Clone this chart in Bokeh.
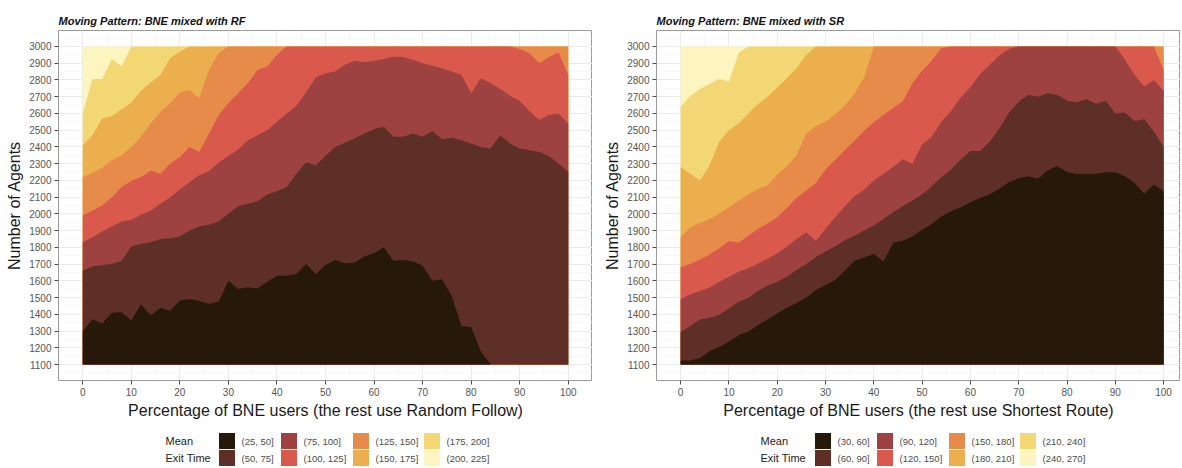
import numpy as np
from bokeh.plotting import figure
from bokeh.layouts import row, column
from bokeh.models import Range1d, FixedTicker
from bokeh.core.properties import value
from bokeh.embed import file_html
from bokeh.resources import INLINE

FONT = "Liberation Sans"

# ---------------- data ----------------
X_PCT = list(range(0, 101, 2))          # percentage of BNE users (grid columns)
AGENTS_MIN = 1100
AGENTS_MAX = 3000
X_TICKS = [0, 10, 20, 30, 40, 50, 60, 70, 80, 90, 100]
Y_TICKS = [1100, 1200, 1300, 1400, 1500, 1600, 1700, 1800, 1900, 2000,
           2100, 2200, 2300, 2400, 2500, 2600, 2700, 2800, 2900, 3000]

RF_LABELS = ["(25, 50]", "(50, 75]", "(75, 100]", "(100, 125]",
             "(125, 150]", "(150, 175]", "(175, 200]", "(200, 225]"]
SR_LABELS = ["(30, 60]", "(60, 90]", "(90, 120]", "(120, 150]",
             "(150, 180]", "(180, 210]", "(210, 240]", "(240, 270]"]
COLORS = ["#27190a", "#5d2f26", "#9d4141", "#d95a4c",
          "#e78b4b", "#ebb04d", "#f3d774", "#fcf5bf"]

# Left panel (BNE mixed with RF): upper boundary (number of agents) of each band
RF_B50 = [1300, 1370, 1345, 1410, 1412, 1365, 1460, 1393, 1440, 1422,
          1482, 1492, 1480, 1462, 1475, 1600, 1552, 1562, 1555, 1595,
          1631, 1630, 1641, 1700, 1641, 1695, 1725, 1705, 1710, 1745,
          1765, 1800, 1720, 1725, 1715, 1690, 1600, 1610, 1510, 1330,
          1325, 1180, 1100, 1100, 1100, 1100, 1100, 1100, 1100, 1100, 1100]
RF_B75 = [1660, 1685, 1695, 1700, 1720, 1805, 1820, 1830, 1850, 1855,
          1865, 1900, 1925, 1935, 1955, 2000, 2045, 2060, 2075, 2115,
          2135, 2160, 2240, 2308, 2290, 2345, 2400, 2425, 2450, 2480,
          2505, 2520, 2460, 2460, 2480, 2460, 2495, 2445, 2455, 2440,
          2420, 2400, 2390, 2470, 2420, 2390, 2380, 2370, 2345, 2300, 2250]
RF_B100 = [1830, 1860, 1895, 1925, 1955, 1965, 1995, 2020, 2060, 2100,
           2145, 2190, 2230, 2255, 2305, 2345, 2385, 2440, 2470, 2500,
           2550, 2600, 2645, 2725, 2815, 2840, 2850, 2890, 2915, 2905,
           2915, 2925, 2940, 2935, 2920, 2900, 2885, 2870, 2850, 2830,
           2720, 2810, 2780, 2745, 2705, 2675, 2615, 2560, 2590, 2600, 2540]
RF_B125 = [1990, 2020, 2050, 2100, 2160, 2198, 2220, 2258, 2240, 2300,
           2340, 2400, 2370, 2480, 2590, 2660, 2720, 2780, 2860, 2880,
           2950, 3000, 3000, 3000, 3000, 3000, 3000, 3000, 3000, 3000,
           3000, 3000, 3000, 3000, 3000, 3000, 3000, 3000, 3000, 3000,
           3000, 3000, 3000, 3000, 3000, 2985, 2960, 2900, 2935, 2965, 2830]
RF_B150 = [2218, 2245, 2275, 2320, 2350, 2400, 2460, 2540, 2610, 2660,
           2725, 2740, 2690, 2860, 2960, 3000, 3000, 3000, 3000, 3000,
           3000, 3000, 3000, 3000, 3000, 3000, 3000, 3000, 3000, 3000,
           3000, 3000, 3000, 3000, 3000, 3000, 3000, 3000, 3000, 3000,
           3000, 3000, 3000, 3000, 3000, 3000, 3000, 3000, 3000, 3000, 3000]
RF_B175 = [2410, 2470, 2570, 2585, 2625, 2665, 2735, 2785, 2830, 2930,
           2970, 3000, 3000, 3000, 3000, 3000, 3000, 3000, 3000, 3000,
           3000, 3000, 3000, 3000, 3000, 3000, 3000, 3000, 3000, 3000,
           3000, 3000, 3000, 3000, 3000, 3000, 3000, 3000, 3000, 3000,
           3000, 3000, 3000, 3000, 3000, 3000, 3000, 3000, 3000, 3000, 3000]
RF_B200 = [2600, 2805, 2805, 2925, 2880, 3000, 3000, 3000, 3000, 3000,
           3000, 3000, 3000, 3000, 3000, 3000, 3000, 3000, 3000, 3000,
           3000, 3000, 3000, 3000, 3000, 3000, 3000, 3000, 3000, 3000,
           3000, 3000, 3000, 3000, 3000, 3000, 3000, 3000, 3000, 3000,
           3000, 3000, 3000, 3000, 3000, 3000, 3000, 3000, 3000, 3000, 3000]

# Right panel (BNE mixed with SR)
SR_B60 = [1124, 1125, 1140, 1180, 1205, 1238, 1275, 1298, 1335, 1370,
          1405, 1440, 1468, 1500, 1545, 1575, 1605, 1662, 1720, 1740,
          1760, 1715, 1828, 1840, 1865, 1905, 1940, 1985, 2015, 2040,
          2070, 2095, 2115, 2150, 2190, 2212, 2225, 2210, 2260, 2285,
          2250, 2238, 2238, 2238, 2248, 2248, 2225, 2185, 2120, 2175, 2135]
SR_B90 = [1293, 1330, 1370, 1380, 1398, 1435, 1475, 1498, 1540, 1572,
          1595, 1625, 1665, 1700, 1742, 1775, 1805, 1842, 1870, 1900,
          1930, 1970, 2010, 2045, 2080, 2115, 2165, 2220, 2265, 2325,
          2375, 2375, 2430, 2510, 2605, 2670, 2712, 2700, 2720, 2710,
          2675, 2665, 2685, 2658, 2675, 2600, 2605, 2555, 2565, 2490, 2400]
SR_B120 = [1492, 1520, 1540, 1560, 1595, 1625, 1655, 1675, 1702, 1732,
           1765, 1805, 1850, 1890, 1840, 1910, 1980, 2045, 2105, 2145,
           2200, 2240, 2280, 2325, 2300, 2415, 2460, 2550, 2615, 2695,
           2756, 2835, 2890, 2945, 2985, 3000, 3000, 3000, 3000, 3000,
           3000, 3000, 3000, 3000, 3000, 3000, 2920, 2830, 2760, 2800, 2735]
SR_B150 = [1681, 1700, 1728, 1758, 1795, 1838, 1828, 1870, 1910, 1942,
           1980, 2035, 2095, 2140, 2185, 2265, 2322, 2380, 2437, 2497,
           2547, 2592, 2632, 2672, 2780, 2855, 2915, 2990, 3000, 3000,
           3000, 3000, 3000, 3000, 3000, 3000, 3000, 3000, 3000, 3000,
           3000, 3000, 3000, 3000, 3000, 3000, 3000, 3000, 3000, 3000, 2860]
SR_B180 = [1860, 1918, 1945, 1970, 2000, 2040, 2080, 2115, 2148, 2170,
           2235, 2285, 2350, 2480, 2525, 2550, 2595, 2645, 2720, 2815,
           3000, 3000, 3000, 3000, 3000, 3000, 3000, 3000, 3000, 3000,
           3000, 3000, 3000, 3000, 3000, 3000, 3000, 3000, 3000, 3000,
           3000, 3000, 3000, 3000, 3000, 3000, 3000, 3000, 3000, 3000, 3000]
SR_B210 = [2278, 2240, 2200, 2290, 2430, 2500, 2540, 2600, 2655, 2700,
           2755, 2810, 2870, 2950, 3000, 3000, 3000, 3000, 3000, 3000,
           3000, 3000, 3000, 3000, 3000, 3000, 3000, 3000, 3000, 3000,
           3000, 3000, 3000, 3000, 3000, 3000, 3000, 3000, 3000, 3000,
           3000, 3000, 3000, 3000, 3000, 3000, 3000, 3000, 3000, 3000, 3000]
SR_B240 = [2640, 2706, 2745, 2776, 2805, 2790, 2960, 3000, 3000, 3000,
           3000, 3000, 3000, 3000, 3000, 3000, 3000, 3000, 3000, 3000,
           3000, 3000, 3000, 3000, 3000, 3000, 3000, 3000, 3000, 3000,
           3000, 3000, 3000, 3000, 3000, 3000, 3000, 3000, 3000, 3000,
           3000, 3000, 3000, 3000, 3000, 3000, 3000, 3000, 3000, 3000, 3000]

RF_BOUNDS = [RF_B50, RF_B75, RF_B100, RF_B125, RF_B150, RF_B175, RF_B200]
SR_BOUNDS = [SR_B60, SR_B90, SR_B120, SR_B150, SR_B180, SR_B210, SR_B240]

TITLE_RF = "Moving Pattern: BNE mixed with RF"
TITLE_SR = "Moving Pattern: BNE mixed with SR"
XLAB_RF = "Percentage of BNE users (the rest use Random Follow)"
XLAB_SR = "Percentage of BNE users (the rest use Shortest Route)"
YLAB = "Number of Agents"
LEGEND_TITLE = ["Mean", "Exit Time"]


# ---------------- drawing ----------------
def panel(title, xlabel, bounds, width, x_end, left_border, right_border):
    p = figure(width=width, height=424,
               x_range=Range1d(-5, x_end), y_range=Range1d(1005, 3095),
               output_backend="svg", toolbar_location=None,
               min_border_left=left_border, min_border_right=right_border,
               min_border_top=30, min_border_bottom=44, title=title)
    p.title.text_font = FONT
    p.title.text_font_size = "11px"
    p.title.text_font_style = "bold italic"
    p.title.text_color = "#111111"
    p.title.align = "left"
    p.title.offset = 0
    p.title.standoff = 8

    xs = np.array(X_PCT, dtype=float)
    n = len(xs)
    uppers = [np.array(b, dtype=float) for b in bounds] + [np.full(n, float(AGENTS_MAX))]
    for i in range(1, len(uppers)):
        uppers[i] = np.maximum(uppers[i], uppers[i - 1])
    base = np.full(n, float(AGENTS_MIN))
    for i in reversed(range(len(COLORS))):
        p.varea(x=xs, y1=base, y2=uppers[i], fill_color=COLORS[i], fill_alpha=1.0)

    p.xaxis.ticker = FixedTicker(ticks=X_TICKS,
                                 minor_ticks=[t + 5 for t in X_TICKS[:-1]])
    p.yaxis.ticker = FixedTicker(ticks=Y_TICKS,
                                 minor_ticks=[t - 50 for t in Y_TICKS] + [3050])
    p.xaxis.axis_label = xlabel
    p.yaxis.axis_label = YLAB
    for ax in (p.xaxis[0], p.yaxis[0]):
        ax.axis_line_color = None
        ax.major_tick_line_color = "#4d4d4d"
        ax.major_tick_out = 4
        ax.major_tick_in = 0
        ax.minor_tick_line_color = None
        ax.major_label_text_font = FONT
        ax.major_label_text_font_size = "10px"
        ax.major_label_text_color = "#555555"
        ax.major_label_standoff = 3
        ax.axis_label_text_font = FONT
        ax.axis_label_text_font_size = "16px"
        ax.axis_label_text_font_style = "normal"
        ax.axis_label_text_color = "#1a1a1a"
        ax.axis_label_standoff = 3
    for g in (p.xgrid[0], p.ygrid[0]):
        g.grid_line_color = "#ebebeb"
        g.grid_line_width = 1
        g.minor_grid_line_color = "#f3f3f3"
        g.minor_grid_line_width = 0.6
    p.outline_line_color = "#9a9a9a"
    p.outline_line_width = 1
    p.background_fill_color = "white"
    p.border_fill_color = "white"
    return p


def legend_strip(labels, width, title_x, swatch_x0):
    h = 42
    lg = figure(width=width, height=h, x_range=Range1d(0, width), y_range=Range1d(0, h),
                output_backend="svg", toolbar_location=None,
                x_axis_location=None, y_axis_location=None, min_border=0)
    lg.grid.visible = False
    lg.outline_line_color = None
    col_off = [0, 62, 134, 205]
    row_y = [25.5, 8.5]
    sx = [swatch_x0 + col_off[i // 2] for i in range(len(labels))]
    sy = [row_y[i % 2] for i in range(len(labels))]
    lg.rect(x=[x + 8.5 for x in sx], y=sy, width=17, height=17,
            fill_color=COLORS, line_color="white", line_width=1)
    lg.text(x=[x + 23 for x in sx], y=sy, text=labels,
            text_font=value(FONT), text_font_size="9.5px", text_color="#4d4d4d",
            text_align="left", text_baseline="middle")
    lg.text(x=[title_x, title_x], y=row_y, text=LEGEND_TITLE,
            text_font=value(FONT), text_font_size="11px", text_color="#222222",
            text_align="left", text_baseline="middle")
    return lg


pL = panel(TITLE_RF, XLAB_RF, RF_BOUNDS, 592, 105, 58, 0)
pR = panel(TITLE_SR, XLAB_SR, SR_BOUNDS, 588, 103.5, 64, 0)
lL = legend_strip(RF_LABELS, 592, 165, 218)
lR = legend_strip(SR_LABELS, 588, 168, 222)

layout = column(row(pL, pR), row(lL, lR))
open("out.html", "w").write(file_html(layout, INLINE))
